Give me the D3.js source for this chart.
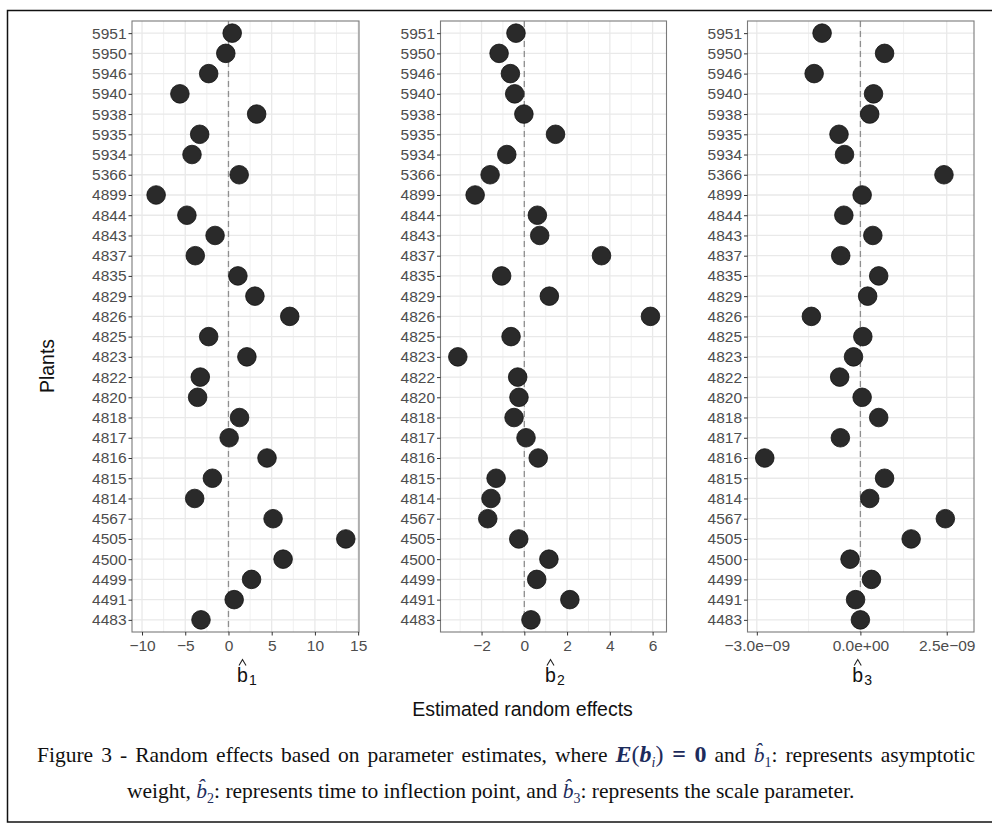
<!DOCTYPE html>
<meta charset="utf-8" />
<head>
  <script src="https://d3js.org/d3.v7.min.js"></script>
  <title>Random effects</title>
  <style>
    body { margin: 0; background: #fff; }
    .tick text { font-family: "Liberation Sans", Arial, sans-serif; font-size: 15.5px; fill: #4d4d4d; }
    .tick line { stroke: #333; }
    .caption { font-family: "Liberation Serif", "Times New Roman", serif; font-size: 21.5px; fill: #111; }
  </style>
</head>
<body>
  <svg id="chart" width="992" height="829"></svg>
</body>

<script>
  // plants, top to bottom as in the figure
  const plants = ["5951", "5950", "5946", "5940", "5938", "5935", "5934", "5366", "4899", "4844",
    "4843", "4837", "4835", "4829", "4826", "4825", "4823", "4822", "4820", "4818",
    "4817", "4816", "4815", "4814", "4567", "4505", "4500", "4499", "4491", "4483"];

  const b1 = [0.43, -0.31, -2.29, -5.62, 3.26, -3.33, -4.22, 1.24, -8.37, -4.81,
    -1.55, -3.84, 1.09, 3.06, 7.09, -2.29, 2.13, -3.26, -3.57, 1.28,
    0.08, 4.46, -1.86, -3.91, 5.16, 13.57, 6.32, 2.67, 0.66, -3.18];

  const b2 = [-0.39, -1.18, -0.65, -0.45, -0.02, 1.46, -0.82, -1.6, -2.3, 0.61,
    0.72, 3.61, -1.06, 1.17, 5.9, -0.62, -3.11, -0.31, -0.25, -0.48,
    0.08, 0.65, -1.32, -1.56, -1.71, -0.26, 1.15, 0.58, 2.13, 0.31];

  const b3 = [-1.11e-9, 0.7e-9, -1.34e-9, 0.38e-9, 0.27e-9, -0.62e-9, -0.46e-9, 2.42e-9, 0.05e-9, -0.48e-9,
    0.36e-9, -0.57e-9, 0.53e-9, 0.21e-9, -1.42e-9, 0.07e-9, -0.2e-9, -0.6e-9, 0.05e-9, 0.53e-9,
    -0.58e-9, -2.77e-9, 0.7e-9, 0.27e-9, 2.46e-9, 1.47e-9, -0.3e-9, 0.32e-9, -0.14e-9, 0.0];

  const b1Ticks = [-10, -5, 0, 5, 10, 15];
  const b1Minor = [-7.5, -2.5, 2.5, 7.5, 12.5];
  const b2Ticks = [-2, 0, 2, 4, 6];
  const b2Minor = [-3, -1, 1, 3, 5];
  const b3Ticks = [-3e-9, 0, 2.5e-9];
  const b3TickLabels = ["\u22123.0e\u221209", "0.0e+00", "2.5e\u221209"];
  const b3Minor = [-1.5e-9, 1.25e-9];

  const svg = d3.select("#chart");
  const plotTop = 21, plotBottom = 632;

  const panels = [
    { vals: b1, domain: [-11.16, 15.1], left: 132, right: 359, ticks: b1Ticks, minor: b1Minor, fmt: d3.format("d"), sub: "1" },
    { vals: b2, domain: [-3.92, 6.65], left: 440.5, right: 666.5, ticks: b2Ticks, minor: b2Minor, fmt: d3.format("d"), sub: "2" },
    { vals: b3, domain: [-3.27e-9, 3.29e-9], left: 747.5, right: 974, ticks: b3Ticks, minor: b3Minor, fmt: (d, i) => b3TickLabels[i], sub: "3" },
  ];

  // outer frame
  svg.append("rect")
    .attr("x", 7.5).attr("y", 10.5)
    .attr("width", 1000).attr("height", 811.5)
    .attr("fill", "none").attr("stroke", "#111").attr("stroke-width", 1.5);

  const y = d3.scalePoint().domain(plants).range([plotTop, plotBottom]).padding(0.6);

  panels.forEach((p) => {
    const x = d3.scaleLinear().domain(p.domain).range([p.left, p.right]);
    const g = svg.append("g");

    // minor + major vertical grid, horizontal grid
    g.selectAll(".vminor").data(p.minor).enter().append("line")
      .attr("x1", (d) => x(d)).attr("x2", (d) => x(d))
      .attr("y1", plotTop).attr("y2", plotBottom)
      .attr("stroke", "#f0f0f0").attr("stroke-width", 1);
    g.selectAll(".vmajor").data(p.ticks).enter().append("line")
      .attr("x1", (d) => x(d)).attr("x2", (d) => x(d))
      .attr("y1", plotTop).attr("y2", plotBottom)
      .attr("stroke", "#e9e9e9").attr("stroke-width", 1.3);
    g.selectAll(".hmajor").data(plants).enter().append("line")
      .attr("x1", p.left).attr("x2", p.right)
      .attr("y1", (d) => y(d)).attr("y2", (d) => y(d))
      .attr("stroke", "#e9e9e9").attr("stroke-width", 1.3);

    // zero reference
    g.append("line")
      .attr("x1", x(0)).attr("x2", x(0))
      .attr("y1", plotTop).attr("y2", plotBottom)
      .attr("stroke", "#8f8f8f").attr("stroke-width", 1.3)
      .attr("stroke-dasharray", "6,4");

    g.selectAll("circle").data(p.vals).enter().append("circle")
      .attr("cx", (d) => x(d))
      .attr("cy", (d, i) => y(plants[i]))
      .attr("r", 9.3)
      .attr("fill", "#2a2a2a")
      .attr("stroke", "#111")
      .attr("stroke-width", 0.8);

    g.append("rect")
      .attr("x", p.left).attr("y", plotTop)
      .attr("width", p.right - p.left).attr("height", plotBottom - plotTop)
      .attr("fill", "none").attr("stroke", "#7a7a7a").attr("stroke-width", 1.1);

    const yAxis = svg.append("g")
      .attr("transform", `translate(${p.left},0)`)
      .call(d3.axisLeft(y).tickSize(3.5).tickPadding(2));
    yAxis.select(".domain").remove();

    const xAxis = svg.append("g")
      .attr("transform", `translate(0,${plotBottom})`)
      .call(d3.axisBottom(x).tickValues(p.ticks).tickFormat(p.fmt).tickSize(3.5).tickPadding(4));
    xAxis.select(".domain").remove();

    // axis title: b with subscript, hat drawn as a small stroke (as plotmath does)
    const cx = (p.left + p.right) / 2;
    const bx = cx - 3;
    const t = svg.append("text")
      .attr("x", cx - 8.4).attr("y", 681.5)
      .attr("font-family", "Liberation Sans, Arial, sans-serif")
      .attr("fill", "#111");
    t.append("tspan").attr("font-size", 19.5).text("b");
    t.append("tspan").attr("font-size", 14).attr("dx", 1).attr("dy", 3.5).text(p.sub);
    svg.append("path")
      .attr("d", `M${bx - 3.5},665.5L${bx},659.5L${bx + 3.5},665.5`)
      .attr("fill", "none").attr("stroke", "#222").attr("stroke-width", 1.1);
  });

  svg.append("text")
    .attr("transform", "translate(54,366) rotate(-90)")
    .attr("text-anchor", "middle")
    .attr("font-family", "Liberation Sans, Arial, sans-serif")
    .attr("font-size", 19.5).attr("fill", "#111")
    .text("Plants");

  svg.append("text")
    .attr("x", 522.5).attr("y", 716)
    .attr("text-anchor", "middle")
    .attr("font-family", "Liberation Sans, Arial, sans-serif")
    .attr("font-size", 19.5).attr("fill", "#111")
    .text("Estimated random effects");

  // caption
  const navy = "#1d2c5c";
  const line1 = [
    { t: "Figure 3 - Random effects based on parameter estimates, where " },
    { t: "E", bold: true, it: true, c: navy, big: true },
    { t: "(", c: navy, big: true },
    { t: "b", bold: true, it: true, c: navy, big: true },
    { t: "i", it: true, c: navy, sub: true },
    { t: ")", c: navy, big: true },
    { t: " = ", bold: true, c: navy, big: true },
    { t: "0", bold: true, c: navy, big: true },
    { t: " and " },
    { t: "b\u0302", it: true, c: navy },
    { t: "1", c: navy, sub: true },
    { t: ": represents asymptotic" },
  ];
  const line2 = [
    { t: "weight, " },
    { t: "b\u0302", it: true, c: navy },
    { t: "2", c: navy, sub: true },
    { t: ": represents time to inflection point, and " },
    { t: "b\u0302", it: true, c: navy },
    { t: "3", c: navy, sub: true },
    { t: ": represents the scale parameter." },
  ];

  const drawLine = (segs, x0, y0, width) => {
    const text = svg.append("text").attr("class", "caption").attr("x", x0).attr("y", y0);
    let shift = 0;
    segs.forEach((s) => {
      const want = s.sub ? 5 : 0;
      const ts = text.append("tspan").attr("dy", want - shift).text(s.t);
      shift = want;
      if (s.bold) ts.attr("font-weight", "bold");
      if (s.it) ts.attr("font-style", "italic");
      if (s.c) ts.attr("fill", s.c);
      if (s.sub) ts.attr("font-size", 14);
      if (s.big) ts.attr("font-size", 24);
    });
    if (width) {
      const natural = text.node().getComputedTextLength();
      const spaces = segs.map((s) => s.t).join("").split(" ").length - 1;
      text.attr("word-spacing", (width - natural) / spaces);
    }
  };

  drawLine(line1, 37, 762, 938);
  drawLine(line2, 127, 798);
</script>
